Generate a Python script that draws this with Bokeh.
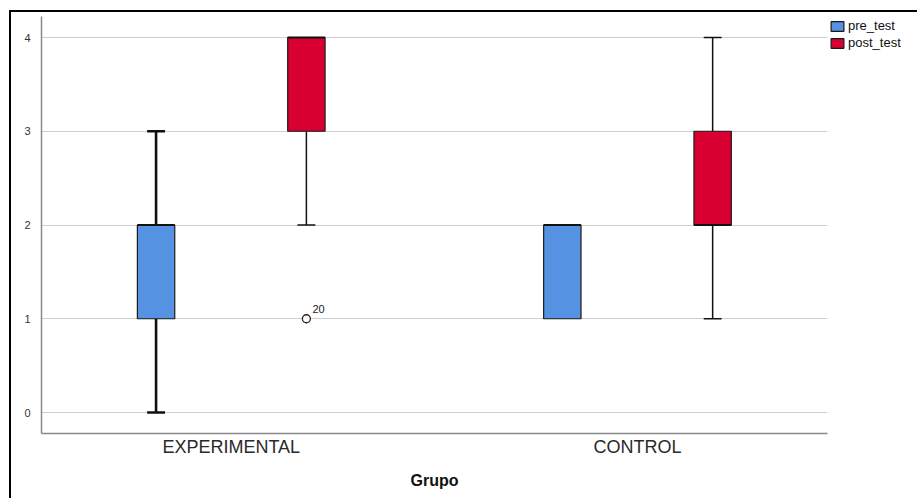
from bokeh.plotting import figure
from bokeh.layouts import column
from bokeh.models import Range1d, FixedTicker, Legend, LegendItem
from bokeh.core.properties import value
from bokeh.embed import file_html
from bokeh.resources import INLINE

# Box-plot summary per group
groups = ["EXPERIMENTAL", "CONTROL"]
group_pos = [1, 2]

pre_min = [0, 1]
pre_q1 = [1, 1]
pre_med = [2, 2]
pre_q3 = [2, 2]
pre_max = [3, 2]

post_min = [2, 1]
post_q1 = [3, 2]
post_med = [4, 2]
post_q3 = [4, 3]
post_max = [4, 4]

# Outlying cases (group index, series, value, case label)
outlier_group = [0]
outlier_series = ["post_test"]
outlier_value = [1]
outlier_label = ["20"]

y_ticks = [0, 1, 2, 3, 4]

PRE_COLOR = "#5592E2"
POST_COLOR = "#D70030"
FONT = "Liberation Sans"

OFFSET = 0.185
BOX_W = 0.092
CAP_W = 0.044

# panel sits inside a black frame that starts at (9, 10)
PAD_L, PAD_T = 11, 12

p = figure(frame_width=786, frame_height=417, output_backend="svg", toolbar_location=None,
           x_range=Range1d(0.533, 2.4677), y_range=Range1d(-0.224, 4.224),
           min_border_left=41 - PAD_L, min_border_right=90, min_border_top=16 - PAD_T,
           min_border_bottom=65)
p.outline_line_color = None
p.background_fill_color = "white"
p.border_fill_color = "white"

# gridlines
p.xgrid.visible = False
p.ygrid.ticker = FixedTicker(ticks=y_ticks)
p.ygrid.grid_line_color = "#CFCFCF"
p.ygrid.grid_line_width = 1.2

# axes
p.yaxis.ticker = FixedTicker(ticks=y_ticks)
p.yaxis.major_tick_line_color = None
p.yaxis.minor_tick_line_color = None
p.yaxis.axis_line_color = "#8A8A8A"
p.yaxis.axis_line_width = 1.5
p.yaxis.major_label_text_font = FONT
p.yaxis.major_label_text_font_size = "11px"
p.yaxis.major_label_text_color = "#333333"
p.yaxis.major_label_standoff = 5

p.xaxis.ticker = FixedTicker(ticks=group_pos)
p.xaxis.major_label_overrides = {g: name for g, name in zip(group_pos, groups)}
p.xaxis.major_tick_line_color = None
p.xaxis.minor_tick_line_color = None
p.xaxis.axis_line_color = "#8A8A8A"
p.xaxis.axis_line_width = 1.5
p.xaxis.major_label_text_font = FONT
p.xaxis.major_label_text_font_size = "18px"
p.xaxis.major_label_text_color = "#2A2A2A"
p.xaxis.major_label_standoff = -3
p.xaxis.axis_label = "Grupo"
p.xaxis.axis_label_text_font = FONT
p.xaxis.axis_label_text_font_size = "16px"
p.xaxis.axis_label_text_font_style = "bold"
p.xaxis.axis_label_text_color = "#111111"
p.xaxis.axis_label_standoff = 12


def draw_series(shift, mins, q1s, meds, q3s, maxs, color, whisker_w):
    xs = [g + shift for g in group_pos]
    # whiskers from the box edges to the extremes
    lx, ly0, ly1 = [], [], []
    for x, lo, a, b, hi in zip(xs, mins, q1s, q3s, maxs):
        if lo < a:
            lx.append(x); ly0.append(lo); ly1.append(a)
        if hi > b:
            lx.append(x); ly0.append(b); ly1.append(hi)
    p.segment(x0=lx, y0=ly0, x1=lx, y1=ly1, line_color="#111111", line_width=whisker_w)
    cx, cy = [], []
    for x, lo, a, b, hi in zip(xs, mins, q1s, q3s, maxs):
        if lo < a:
            cx.append(x); cy.append(lo)
        if hi > b:
            cx.append(x); cy.append(hi)
    p.segment(x0=[x - CAP_W / 2 for x in cx], y0=cy, x1=[x + CAP_W / 2 for x in cx], y1=cy,
              line_color="#111111", line_width=whisker_w)
    box = p.vbar(x=xs, width=BOX_W, bottom=q1s, top=q3s, fill_color=color,
                 line_color="#1A1A1A", line_width=1.2)
    p.segment(x0=[x - BOX_W / 2 for x in xs], y0=meds, x1=[x + BOX_W / 2 for x in xs], y1=meds,
              line_color="#111111", line_width=2.2)
    return box


pre_box = draw_series(-OFFSET, pre_min, pre_q1, pre_med, pre_q3, pre_max, PRE_COLOR, 2.6)
post_box = draw_series(OFFSET, post_min, post_q1, post_med, post_q3, post_max, POST_COLOR, 1.5)

# outliers
shift_of = {"pre_test": -OFFSET, "post_test": OFFSET}
ox = [group_pos[g] + shift_of[s] for g, s in zip(outlier_group, outlier_series)]
p.scatter(x=ox, y=outlier_value, marker="circle", size=8, fill_color="white",
          line_color="#222222", line_width=1.3)
p.text(x=ox, y=outlier_value, text=outlier_label, x_offset=6, y_offset=-6,
       text_font=value(FONT), text_font_size="11px", text_color="#222222",
       text_baseline="bottom", text_align="left")

legend = Legend(items=[LegendItem(label="pre_test", renderers=[pre_box]),
                       LegendItem(label="post_test", renderers=[post_box])],
                location="top_left", orientation="vertical")
legend.label_text_font = FONT
legend.label_text_font_size = "13px"
legend.label_text_color = "#111111"
legend.glyph_width = 16
legend.glyph_height = 12
legend.label_height = 12
legend.spacing = 2
legend.padding = 0
legend.margin = 2
legend.label_standoff = 3
legend.border_line_color = None
legend.background_fill_alpha = 0
p.add_layout(legend, "right")

page = column(p, styles={"margin-left": "9px", "margin-top": "10px",
                         "border-left": "2px solid #000000",
                         "border-top": "2px solid #000000"})

open("out.html", "w").write(file_html(page, INLINE))
